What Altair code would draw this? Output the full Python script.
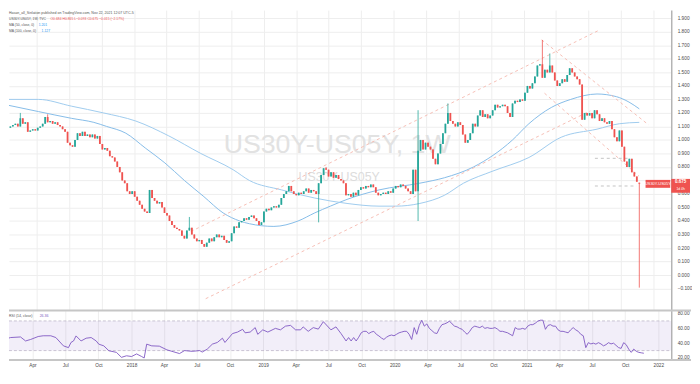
import altair as alt
import pandas as pd
import numpy as np

FONT = "Liberation Sans"
START = "2017-01-02"            # first weekly bar (Monday)
X_DOMAIN = ["2017-01-26", "2022-02-06"]
Y_DOMAIN = [-0.2556, 1.961]
RSI_DOMAIN = [17.3, 84.0]
W, H_MAIN, H_RSI = 670, 303, 50

# weekly closes
closes = [
    1.10, 1.09, 1.10, 1.11, 1.12, 1.10, 1.16, 1.12, 1.13, 1.06,
    1.07, 1.08, 1.07, 1.09, 1.10, 1.12, 1.17, 1.13, 1.14, 1.12,
    1.13, 1.11, 1.10, 1.08, 1.06, 0.98, 0.96, 0.95, 1.00, 1.05,
    1.03, 1.06, 1.03, 1.04, 1.02, 1.04, 1.01, 1.03, 0.97, 0.93,
    0.94, 0.92, 0.88, 0.87, 0.84, 0.80, 0.76, 0.70, 0.68, 0.62,
    0.60, 0.62, 0.58, 0.55, 0.52, 0.49, 0.47, 0.46, 0.63, 0.57,
    0.55, 0.53, 0.54, 0.50, 0.46, 0.44, 0.40, 0.37, 0.35, 0.34,
    0.33, 0.29, 0.27, 0.33, 0.35, 0.30, 0.27, 0.25, 0.26, 0.23,
    0.21, 0.24, 0.27, 0.25, 0.28, 0.30, 0.28, 0.29, 0.26, 0.24,
    0.25, 0.31, 0.36, 0.35, 0.39, 0.40, 0.42, 0.41, 0.43, 0.44,
    0.42, 0.40, 0.37, 0.39, 0.47, 0.49, 0.48, 0.50, 0.51, 0.50,
    0.52, 0.57, 0.60, 0.62, 0.66, 0.62, 0.60, 0.59, 0.61, 0.60,
    0.62, 0.64, 0.61, 0.63, 0.62, 0.60, 0.68, 0.74, 0.79, 0.78,
    0.73, 0.76, 0.72, 0.74, 0.71, 0.70, 0.68, 0.59, 0.60, 0.58,
    0.61, 0.59, 0.63, 0.65, 0.64, 0.66, 0.65, 0.67, 0.65, 0.61,
    0.59, 0.60, 0.61, 0.60, 0.62, 0.61, 0.64, 0.66, 0.65, 0.67,
    0.66, 0.64, 0.62, 0.60, 0.78, 0.62, 0.92, 1.00, 0.93, 0.98,
    0.95, 0.93, 0.86, 0.82, 0.90, 0.97, 1.05, 1.12, 1.20, 1.14,
    1.12, 1.10, 1.13, 1.11, 1.04, 0.98, 1.00, 1.05, 1.12, 1.10,
    1.18, 1.22, 1.17, 1.19, 1.16, 1.18, 1.22, 1.26, 1.24, 1.25,
    1.26, 1.25, 1.20, 1.17, 1.27, 1.29, 1.28, 1.30, 1.29, 1.35,
    1.40, 1.38, 1.42, 1.47, 1.55, 1.56, 1.46, 1.52, 1.50, 1.55,
    1.50, 1.44, 1.40, 1.42, 1.45, 1.43, 1.48, 1.53, 1.50, 1.47,
    1.45, 1.41, 1.15, 1.20, 1.18, 1.20, 1.16, 1.22, 1.19, 1.14,
    1.16, 1.13, 1.12, 1.14, 1.08, 1.02, 0.99, 1.07, 0.95, 0.84,
    0.80, 0.86, 0.76, 0.73, 0.69, 0.675,
]
first_open = 1.11
last_open = 0.684
wick_high = {6: 1.20, 17: 1.19, 74: 0.43, 129: 0.80, 166: 1.22, 178: 1.27, 216: 1.74, 219: 1.64}
wick_low = {126: 0.39, 166: 0.40, 255: -0.093}

# RSI(14): week index -> value
rsi_week = [0, 4, 8, 10, 12, 15, 17, 20, 22, 25, 27, 28, 29, 30, 32, 34, 36, 38, 39, 41,
            43, 46, 48, 50, 52, 54, 56, 57, 58, 60, 63, 66, 68, 71, 73, 76, 79, 80, 82, 84,
            86, 88, 89, 92, 94, 96, 97, 99, 101, 102, 104, 106, 109, 111, 113, 115, 117, 119, 120, 122,
            124, 126, 128, 131, 133, 135] + list(range(137, 256))
rsi_value = [43, 47.6, 48.4, 43, 45, 49, 50, 50, 47.6, 36.4, 34, 41, 43, 49.8, 43, 46.7, 47.6, 43, 38.7, 36.4,
             29.8, 27.6, 20.9, 23, 22, 25.5, 22, 20, 38.7, 36.4, 36, 31, 29, 26, 30, 29, 30, 28, 32, 38.7,
             41, 46.7, 41, 53, 55, 58.7, 54, 55, 61, 52, 58, 55, 60, 58, 63, 64, 58, 58, 62, 56,
             61, 59, 69, 58, 62, 53,
             43, 47.6, 43, 47.6, 43, 48, 54, 56, 56, 53, 55, 56, 52, 49.8, 47, 45, 48, 50, 51, 50,
             52, 54, 55, 56, 56, 52, 45, 61, 52, 64, 71, 63, 66, 60, 57, 54, 53, 60, 65, 66,
             67.5, 69.8, 66, 63, 62, 60, 58.7, 55, 52, 56, 61, 63, 62, 61, 63, 60, 61, 60, 60, 61,
             59, 56, 56, 55, 54, 52, 50, 61, 59, 59, 60, 58.7, 63, 65, 65, 67, 69.8, 71, 71, 58.7,
             64, 65, 63, 63, 58, 56, 56, 55, 54, 58, 61, 58, 56, 52, 50, 34, 40.7, 39, 40, 38.7,
             40.7, 39, 36.4, 38, 40.7, 39, 40, 37, 34, 33, 40.7, 38, 32, 27.6, 32, 29, 27.6, 27, 26.4]

ma50_dates = ["2017-01-04", "2017-04-05", "2017-07-07", "2017-09-08", "2017-10-14", "2017-12-07",
              "2018-01-31", "2018-03-27", "2018-05-21", "2018-07-15", "2018-09-07", "2018-10-24",
              "2018-11-20", "2019-01-28", "2019-04-06", "2019-05-23", "2019-07-06", "2019-08-22",
              "2019-11-20", "2020-03-14", "2020-05-22", "2020-08-12", "2020-11-30", "2021-01-15",
              "2021-03-19", "2021-05-13", "2021-07-26", "2021-09-19", "2021-10-24", "2021-11-22"]
ma50_values = [1.26, 1.21, 1.16, 1.13, 1.10, 1.05, 0.94, 0.83, 0.70, 0.58, 0.46, 0.40,
               0.38, 0.36, 0.40, 0.46, 0.51, 0.56, 0.63, 0.68, 0.72, 0.80, 1.00, 1.12,
               1.24, 1.30, 1.34, 1.32, 1.28, 1.23]
ma100_dates = ["2017-01-04", "2017-04-05", "2017-07-07", "2017-10-05", "2018-01-04", "2018-04-07",
               "2018-07-06", "2018-10-05", "2018-11-20", "2019-02-19", "2019-05-23", "2019-08-22",
               "2019-11-20", "2020-01-06", "2020-03-14", "2020-05-22", "2020-07-15", "2020-10-06",
               "2021-01-15", "2021-04-16", "2021-07-26", "2021-09-27", "2021-11-22"]
ma100_values = [1.30, 1.30, 1.25, 1.20, 1.14, 1.03, 0.90, 0.78, 0.70, 0.63, 0.57, 0.53,
                0.51, 0.51, 0.53, 0.59, 0.68, 0.77, 0.87, 1.02, 1.08, 1.12, 1.13]

# drawn trend lines (start date, start value, end date, end value)
trend_d1 = ["2018-07-20", "2018-06-08", "2021-02-20", "2021-02-28"]
trend_v1 = [-0.175, 0.322, 1.741, 1.346]
trend_d2 = ["2021-07-07", "2021-08-03", "2021-12-18", "2021-11-21"]
trend_v2 = [1.215, 1.815, 1.112, 0.732]
level_d1 = ["2021-07-20", "2021-07-20"]
level_d2 = ["2021-10-21", "2021-11-14"]
level_v = [0.864, 0.659]

y_ticks = [-0.1, 0.0, 0.1, 0.2, 0.3, 0.4, 0.5, 0.6, 0.7, 0.8, 0.9, 1.0,
           1.1, 1.2, 1.3, 1.4, 1.5, 1.6, 1.7, 1.8, 1.9]
rsi_ticks = [20, 40, 60, 80]
tick_dates = ["2017-04-01", "2017-07-01", "2017-10-01", "2018-01-01", "2018-04-01", "2018-07-01",
              "2018-10-01", "2019-01-01", "2019-04-01", "2019-07-01", "2019-10-01", "2020-01-01",
              "2020-04-01", "2020-07-01", "2020-10-01", "2021-01-01", "2021-04-01", "2021-07-01",
              "2021-10-01", "2022-01-01"]

header1 = "Hasan_all_Sinlation published on TradingView.com, Nov 22, 2021 12:07 UTC-5"
header2a = "US30Y-US05Y, 1W, TVC"
header2b = "O0.684 H0.865 L\u22120.093 C0.675 \u22120.015 (\u22122.17%)"
header3a, header3b = "MA (50, close, 0)", "1.201"
header4a, header4b = "MA (100, close, 0)", "1.127"
rsi_title, rsi_last = "RSI (14, close)", "26.36"
watermark_big = "US30Y-US05Y, 1W"
watermark_small = "US30Y-US05Y"
last_price = 0.675
countdown = "1d 4h"


def ms(d):
    return int(pd.Timestamp(d, tz="UTC").value // 10**6)


dates = pd.date_range(START, periods=len(closes), freq="7D")
opens = [first_open] + closes[:-1]
opens[-1] = last_open
highs = [wick_high.get(i, max(o, c)) for i, (o, c) in enumerate(zip(opens, closes))]
lows = [wick_low.get(i, min(o, c)) for i, (o, c) in enumerate(zip(opens, closes))]
candles = pd.DataFrame({
    "date": dates.strftime("%Y-%m-%d"), "open": opens, "high": highs,
    "low": lows, "close": closes,
})
candles["dir"] = np.where(candles["close"] >= candles["open"], "up", "down")

xscale = alt.Scale(type="utc", domain=[ms(d) for d in X_DOMAIN], nice=False)
yscale = alt.Scale(domain=Y_DOMAIN, nice=False, zero=False)
tick_ms = [ms(d) for d in tick_dates]
GRID = "#eeeeee"

xaxis_main = alt.Axis(values=tick_ms, labels=False, ticks=False, domain=False,
                      grid=True, gridColor=GRID, title=None)
yaxis_main = alt.Axis(orient="right", values=y_ticks, grid=True,
                      labelExpr="abs(datum.value - 0.7) < 0.001 ? '' : format(datum.value, '.3f')",
                      gridColor=GRID, ticks=False, domain=True, domainColor="#b4b4b4",
                      domainWidth=1.5, labelFont=FONT, labelFontSize=4.8,
                      labelColor="#4a4a4a", labelPadding=6, title=None)

X = alt.X("date:T", scale=xscale, axis=xaxis_main)
color = alt.Color("dir:N", scale=alt.Scale(domain=["up", "down"], range=["#26a69a", "#ef5350"]),
                  legend=None)

wm_big = alt.Chart(pd.DataFrame({"t": [watermark_big]})).mark_text(
    font=FONT, fontSize=27, color="#e2e2e2", align="center", baseline="middle"
).encode(x=alt.value(332), y=alt.value(137), text="t:N")
wm_small = alt.Chart(pd.DataFrame({"t": [watermark_small]})).mark_text(
    font=FONT, fontSize=12.5, color="#dcdcdc", align="center", baseline="middle"
).encode(x=alt.value(334), y=alt.value(169), text="t:N")

ma50 = alt.Chart(pd.DataFrame({"date": ma50_dates, "v": ma50_values})).mark_line(
    color="#86bce8", strokeWidth=1, clip=True, interpolate="monotone"
).encode(x=X, y=alt.Y("v:Q", scale=yscale, axis=yaxis_main))
ma100 = alt.Chart(pd.DataFrame({"date": ma100_dates, "v": ma100_values})).mark_line(
    color="#9fcbee", strokeWidth=1, clip=True, interpolate="monotone"
).encode(x=X, y=alt.Y("v:Q", scale=yscale, axis=yaxis_main))

trends = alt.Chart(pd.DataFrame({"d1": trend_d1, "v1": trend_v1, "d2": trend_d2, "v2": trend_v2})
                   ).mark_rule(color="#f5b8ae", strokeWidth=0.9, strokeDash=[3, 3], clip=True).encode(
    x=alt.X("d1:T", scale=xscale, axis=xaxis_main), x2="d2:T",
    y=alt.Y("v1:Q", scale=yscale, axis=yaxis_main), y2="v2:Q")
levels = alt.Chart(pd.DataFrame({"d1": level_d1, "d2": level_d2, "v": level_v})
                   ).mark_rule(color="#bcbcbc", strokeWidth=0.9, strokeDash=[3, 3], clip=True).encode(
    x=alt.X("d1:T", scale=xscale, axis=xaxis_main), x2="d2:T",
    y=alt.Y("v:Q", scale=yscale, axis=yaxis_main))

wicks = alt.Chart(candles).mark_rule(strokeWidth=0.8, clip=True).encode(
    x=X, y=alt.Y("low:Q", scale=yscale, axis=yaxis_main), y2="high:Q", color=color)
bodies = alt.Chart(candles).mark_bar(width=1.8, clip=True).encode(
    x=X, y=alt.Y("open:Q", scale=yscale, axis=yaxis_main), y2="close:Q", color=color)


def label(txt, x, y, size, col, weight="normal", align="left"):
    return alt.Chart(pd.DataFrame({"t": [txt]})).mark_text(
        font=FONT, fontSize=size, color=col, align=align, baseline="middle", fontWeight=weight
    ).encode(x=alt.value(x), y=alt.value(y), text="t:N")


headers = [
    label(header1, 0, 2.5, 3.6, "#555555"),
    label(header2a, 0, 9, 3.4, "#555555"),
    label(header2b, 42, 9, 3.4, "#ef5350"),
    label(header3a, 0, 15, 3.4, "#555555"),
    label(header3b, 30, 15, 3.4, "#2196f3"),
    label(header4a, 0, 21, 3.4, "#555555"),
    label(header4b, 33, 21, 3.4, "#2196f3"),
]

price_df = pd.DataFrame({"v": [last_price]})
price_box_in = alt.Chart(price_df).mark_rect(color="#ef5350", yOffset=-4, y2Offset=4).encode(
    x=alt.value(644), x2=alt.value(669), y=alt.Y("v:Q", scale=yscale, axis=yaxis_main), y2="v:Q")
price_box_ax = alt.Chart(price_df).mark_rect(color="#ef5350", yOffset=-5, y2Offset=9).encode(
    x=alt.value(670), x2=alt.value(689), y=alt.Y("v:Q", scale=yscale, axis=yaxis_main), y2="v:Q")
price_txt_in = alt.Chart(pd.DataFrame({"v": [last_price], "t": [watermark_small]})).mark_text(
    font=FONT, fontSize=4, color="white", align="center", baseline="middle"
).encode(x=alt.value(656.5), y=alt.Y("v:Q", scale=yscale, axis=yaxis_main), text="t:N")
price_txt_ax = alt.Chart(pd.DataFrame({"v": [last_price], "t": [f"{last_price:.3f}"]})).mark_text(
    font=FONT, fontSize=4.6, color="white", align="center", baseline="middle", fontWeight="bold", dy=-1.5
).encode(x=alt.value(679.5), y=alt.Y("v:Q", scale=yscale, axis=yaxis_main), text="t:N")
price_cd_ax = alt.Chart(pd.DataFrame({"v": [last_price], "t": [countdown]})).mark_text(
    font=FONT, fontSize=3.4, color="white", align="center", baseline="middle", dy=5
).encode(x=alt.value(679.5), y=alt.Y("v:Q", scale=yscale, axis=yaxis_main), text="t:N")

main = alt.layer(
    wm_big, wm_small, ma50, ma100, trends, levels, wicks, bodies,
    *headers, price_box_in, price_box_ax, price_txt_in, price_txt_ax, price_cd_ax
).properties(width=W, height=H_MAIN)

# ---- RSI pane ----
rsi_y = alt.Scale(domain=RSI_DOMAIN, nice=False, zero=False)
rsi_yaxis = alt.Axis(orient="right", values=rsi_ticks, format=".2f", grid=False, ticks=False,
                     domain=True, domainColor="#b4b4b4", domainWidth=1.5, labelFont=FONT,
                     labelFontSize=4.8, labelColor="#4a4a4a", labelPadding=6, title=None)
rsi_xaxis = alt.Axis(values=tick_ms, grid=True, gridColor=GRID, ticks=False, domain=False,
                     labelFont=FONT, labelFontSize=4.8, labelColor="#4a4a4a", labelPadding=3,
                     labelExpr="utcmonth(datum.value) === 0 ? utcFormat(datum.value, '%Y') : utcFormat(datum.value, '%b')",
                     title=None)
RX = alt.X("date:T", scale=xscale, axis=rsi_xaxis)

band = alt.Chart(pd.DataFrame({"hi": [70], "lo": [30]})).mark_rect(color="#7e57c2", opacity=0.1).encode(
    x=alt.value(0), x2=alt.value(W), y=alt.Y("hi:Q", scale=rsi_y, axis=rsi_yaxis), y2="lo:Q")
band_lines = alt.Chart(pd.DataFrame({"v": [70, 30]})).mark_rule(
    color="#bdb6c9", strokeWidth=0.8, strokeDash=[3, 2]
).encode(x=alt.value(0), x2=alt.value(W), y=alt.Y("v:Q", scale=rsi_y, axis=rsi_yaxis))
rsi_df = pd.DataFrame({"date": [dates[i].strftime("%Y-%m-%d") for i in rsi_week], "rsi": rsi_value})
rsi_line = alt.Chart(rsi_df).mark_line(color="#7e57c2", strokeWidth=0.9, clip=True).encode(
    x=RX, y=alt.Y("rsi:Q", scale=rsi_y, axis=rsi_yaxis))
sep_top = alt.Chart(pd.DataFrame({"a": [0]})).mark_rule(color="#c6c6c6", strokeWidth=2).encode(
    x=alt.value(0), x2=alt.value(690), y=alt.value(0))
sep_bot = alt.Chart(pd.DataFrame({"a": [0]})).mark_rule(color="#c6c6c6", strokeWidth=2).encode(
    x=alt.value(0), x2=alt.value(690), y=alt.value(H_RSI))
rsi_head = label(rsi_title, 0, 5.5, 3.6, "#555555")
rsi_head_v = label(rsi_last, 31, 5.5, 3.6, "#7e57c2")

rsi = alt.layer(band, band_lines, rsi_line, sep_top, sep_bot, rsi_head, rsi_head_v).properties(
    width=W, height=H_RSI)

chart = alt.vconcat(main, rsi, spacing=0).properties(
    padding={"left": 0, "top": 0, "right": 0, "bottom": 0}, background="white"
).configure_view(stroke=None)

chart.save("out.html", embed_options={"renderer": "svg", "actions": False})
